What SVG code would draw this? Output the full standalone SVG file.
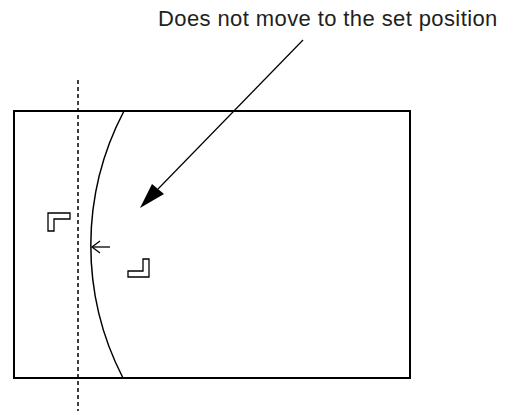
<svg xmlns="http://www.w3.org/2000/svg" width="509" height="411" viewBox="0 0 509 411">
<style>
.ln{fill:none;stroke:#000;stroke-width:1.5}
.br{fill:#fff;stroke:#000;stroke-width:1.3}
.t{font-family:"Liberation Sans",Arial,sans-serif;font-size:22px;letter-spacing:0.4px;fill:#231f20}
</style>
<defs>
<marker id="open" markerWidth="12" markerHeight="14" refX="9" refY="7" orient="auto" markerUnits="userSpaceOnUse">
<path d="M1,1 L9,7 L1,13" fill="none" stroke="#000" stroke-width="1.3"/>
</marker>
</defs>
<rect x="14" y="111" width="396" height="267" fill="none" stroke="#000" stroke-width="2"/>
<line x1="78" y1="80" x2="78" y2="411" class="ln" stroke-dasharray="4,3"/>
<path d="M124,111 A289,289 0 0 0 123,378" class="ln"/>
<g id="bracket1"><path class="br" d="M48,213 H70 V219 H54 V231 H48 Z"/></g>
<g id="bracket2"><path class="br" d="M149,259 V277 H128 V271 H143 V259 Z"/></g>
<g id="connectors">
<line x1="110" y1="247" x2="92" y2="247" stroke="#000" stroke-width="1.3" marker-end="url(#open)"/>
<line x1="303" y1="40" x2="158" y2="189" stroke="#000" stroke-width="1.2"/>
<polygon points="140,208 152,184 164,194" fill="#000"/>
</g>
<g id="label"><text class="t" x="158" y="26">Does not move to the set position</text></g>
</svg>
